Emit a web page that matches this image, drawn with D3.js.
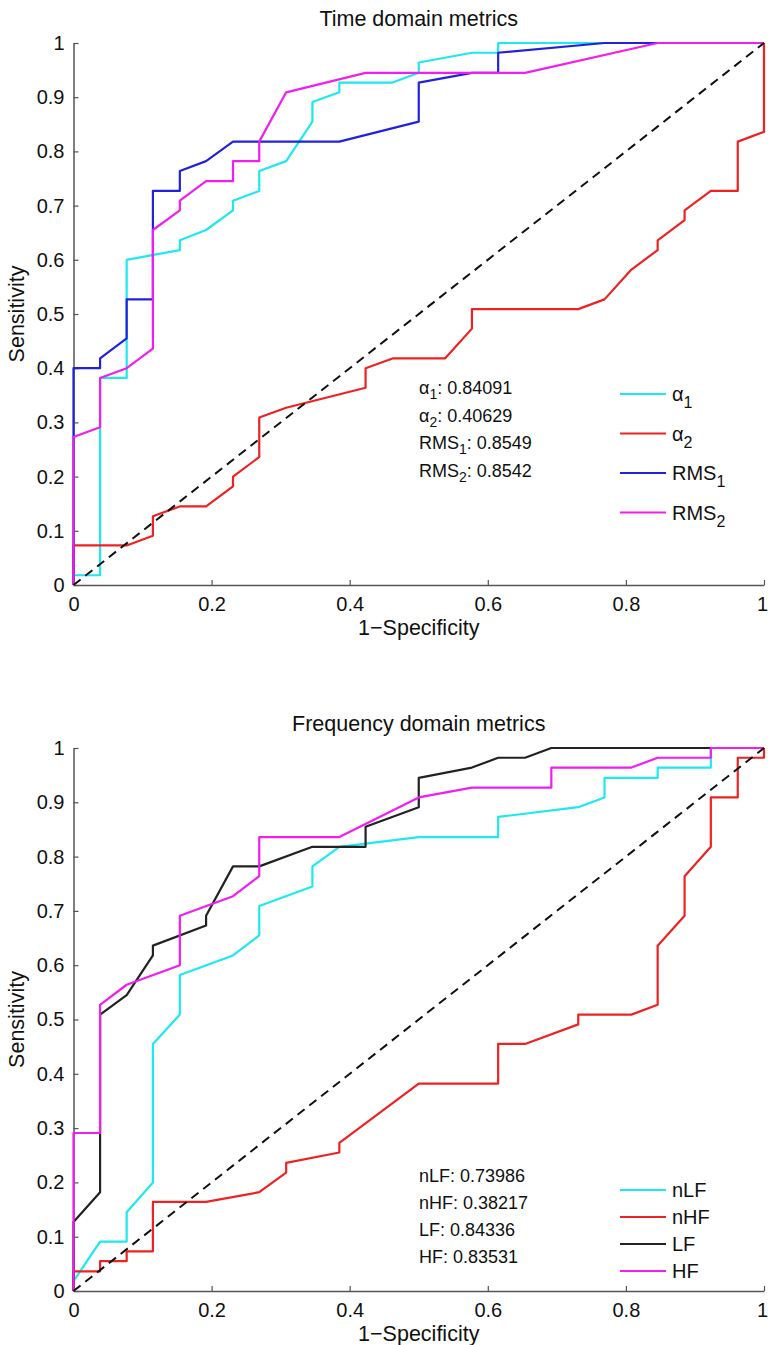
<!DOCTYPE html>
<html>
<head>
<meta charset="utf-8">
<script src="https://cdn.jsdelivr.net/npm/d3@7"></script>
<style>
  body { margin: 0; background: #fff; }
  text { font-family: "Liberation Sans", Arial, sans-serif; fill: #111; }
</style>
</head>
<body>
<div id="chart"></div>
<script>
// chart size
const width = 768, height = 1345;

// tick labels
const xTicks = [0, 0.2, 0.4, 0.6, 0.8, 1];
const yTicks = [0, 0.1, 0.2, 0.3, 0.4, 0.5, 0.6, 0.7, 0.8, 0.9, 1];

// ROC curves, time domain  [1-specificity, sensitivity]
const alpha1 = [[0,0],[0,0.018],[0.0385,0.018],[0.0385,0.382],[0.077,0.382],[0.077,0.6],[0.154,0.618],[0.154,0.636],[0.192,0.655],[0.231,0.691],[0.231,0.709],[0.269,0.727],[0.269,0.764],[0.308,0.782],[0.346,0.855],[0.346,0.891],[0.385,0.909],[0.385,0.927],[0.462,0.927],[0.5,0.945],[0.5,0.964],[0.577,0.982],[0.615,0.982],[0.615,1],[1,1]];
const alpha2 = [[0,0],[0,0.073],[0.077,0.073],[0.115,0.091],[0.115,0.127],[0.154,0.145],[0.192,0.145],[0.231,0.182],[0.231,0.2],[0.269,0.236],[0.269,0.309],[0.308,0.327],[0.423,0.364],[0.423,0.4],[0.462,0.418],[0.538,0.418],[0.577,0.473],[0.577,0.509],[0.731,0.509],[0.769,0.527],[0.808,0.582],[0.846,0.618],[0.846,0.636],[0.885,0.673],[0.885,0.691],[0.923,0.727],[0.962,0.727],[0.962,0.818],[1,0.836],[1,1]];
const rms1 = [[0,0],[0,0.4],[0.0385,0.4],[0.0385,0.418],[0.077,0.455],[0.077,0.527],[0.115,0.527],[0.115,0.727],[0.154,0.727],[0.154,0.764],[0.192,0.782],[0.231,0.818],[0.385,0.818],[0.5,0.855],[0.5,0.927],[0.577,0.945],[0.615,0.945],[0.615,0.982],[0.769,1],[1,1]];
const rms2 = [[0,0],[0,0.273],[0.0385,0.291],[0.0385,0.382],[0.077,0.4],[0.115,0.436],[0.115,0.655],[0.154,0.691],[0.154,0.709],[0.192,0.745],[0.231,0.745],[0.231,0.782],[0.269,0.782],[0.269,0.818],[0.308,0.909],[0.423,0.945],[0.654,0.945],[0.846,1],[1,1]];

// ROC curves, frequency domain
const nLF = [[0,0],[0,0.018],[0.0385,0.091],[0.077,0.091],[0.077,0.145],[0.115,0.2],[0.115,0.455],[0.154,0.509],[0.154,0.582],[0.231,0.618],[0.269,0.655],[0.269,0.709],[0.346,0.745],[0.346,0.782],[0.385,0.818],[0.5,0.836],[0.615,0.836],[0.615,0.873],[0.731,0.891],[0.769,0.909],[0.769,0.945],[0.846,0.945],[0.846,0.964],[0.923,0.964],[0.923,1],[1,1]];
const nHF = [[0,0],[0,0.036],[0.0385,0.036],[0.0385,0.055],[0.077,0.055],[0.077,0.073],[0.115,0.073],[0.115,0.164],[0.192,0.164],[0.269,0.182],[0.308,0.218],[0.308,0.236],[0.385,0.255],[0.385,0.273],[0.5,0.382],[0.615,0.382],[0.615,0.455],[0.654,0.455],[0.731,0.491],[0.731,0.509],[0.808,0.509],[0.846,0.527],[0.846,0.636],[0.885,0.691],[0.885,0.764],[0.923,0.818],[0.923,0.909],[0.962,0.909],[0.962,0.982],[1,0.982],[1,1]];
const LF = [[0,0],[0,0.127],[0.0385,0.182],[0.0385,0.509],[0.077,0.545],[0.115,0.618],[0.115,0.636],[0.192,0.673],[0.192,0.691],[0.231,0.782],[0.269,0.782],[0.346,0.818],[0.423,0.818],[0.423,0.855],[0.5,0.891],[0.5,0.945],[0.577,0.964],[0.615,0.982],[0.654,0.982],[0.692,1],[1,1]];
const HF = [[0,0],[0,0.291],[0.0385,0.291],[0.0385,0.527],[0.077,0.564],[0.154,0.6],[0.154,0.691],[0.231,0.727],[0.269,0.764],[0.269,0.836],[0.385,0.836],[0.5,0.909],[0.577,0.927],[0.692,0.927],[0.692,0.964],[0.808,0.964],[0.846,0.982],[0.923,0.982],[0.923,1],[1,1]];

// chance line
const diagonal = [[0,0],[1,1]];

// legend / AUC text
const timeNames = [["α", "1"], ["α", "2"], ["RMS", "1"], ["RMS", "2"]];
const timeAUC = ["0.84091", "0.40629", "0.8549", "0.8542"];
const freqNames = [["nLF", ""], ["nHF", ""], ["LF", ""], ["HF", ""]];
const freqAUC = ["0.73986", "0.38217", "0.84336", "0.83531"];

const svg = d3.select("#chart")
  .append("svg")
    .attr("width", width)
    .attr("height", height);

//one panel
function drawPanel(opt) {
  const x = d3.scaleLinear().domain([0, 1]).range([73.5, 764]);
  const y = d3.scaleLinear().domain([0, 1]).range([opt.bottom, opt.top]);
  const g = svg.append("g");

  const line = d3.line()
    .x(d => x(d[0]))
    .y(d => y(d[1]));

  //axes (ticks inside, like matlab)
  g.append("g")
    .attr("transform", `translate(0,${y(0)})`)
    .call(d3.axisBottom(x).tickValues(xTicks).tickSizeInner(-5).tickSizeOuter(0).tickPadding(12).tickFormat(d3.format("~g")))
    .call(a => a.selectAll("text").attr("dy", "0.71em"))
    .call(a => a.selectAll(".tick:last-of-type text").attr("dx", -2));
  g.append("g")
    .attr("transform", `translate(${x(0)},0)`)
    .call(d3.axisLeft(y).tickValues(yTicks).tickSizeInner(-5).tickSizeOuter(0).tickPadding(9).tickFormat(d3.format("~g")));

  g.selectAll(".domain").attr("stroke", "#555").attr("stroke-width", 1.5);
  g.selectAll(".tick line").attr("stroke", "#555").attr("stroke-width", 1.2);
  g.selectAll(".tick text").style("font-size", "20px").attr("fill", "#111");

  //curves
  g.selectAll("path.roc")
    .data(opt.series)
    .join("path")
      .attr("class", "roc")
      .attr("d", d => line(d))
      .attr("fill", "none")
      .attr("stroke", (d, i) => opt.colors[i])
      .attr("stroke-width", 2.2)
      .attr("stroke-linejoin", "round");

  g.append("path")
    .attr("d", line(diagonal))
    .attr("fill", "none")
    .attr("stroke", "#111")
    .attr("stroke-width", 2)
    .attr("stroke-dasharray", "9,6");

  //titles
  g.append("text")
    .attr("x", (x(0) + x(1)) / 2)
    .attr("y", opt.top - 17)
    .attr("text-anchor", "middle")
    .style("font-size", "21.5px")
    .text(opt.title);
  g.append("text")
    .attr("x", (x(0) + x(1)) / 2)
    .attr("y", y(0) + 50)
    .attr("text-anchor", "middle")
    .style("font-size", "21.5px")
    .text("1\u2212Specificity");
  g.append("text")
    .attr("transform", `translate(24,${(y(0) + y(1)) / 2}) rotate(-90)`)
    .attr("text-anchor", "middle")
    .style("font-size", "21.5px")
    .text("Sensitivity");

  //AUC annotation
  opt.names.forEach((n, i) => {
    const t = g.append("text")
      .attr("x", 419)
      .attr("y", opt.noteY + i * opt.noteStep)
      .style("font-size", "18px");
    t.append("tspan").text(n[0]);
    if (n[1]) t.append("tspan").attr("dy", 5).style("font-size", "14px").text(n[1]);
    t.append("tspan").attr("dy", n[1] ? -5 : 0).text(": " + opt.auc[i]);
  });

  //legend
  opt.names.forEach((n, i) => {
    const ly = opt.legY + i * opt.legStep;
    g.append("line")
      .attr("x1", 620).attr("x2", 666)
      .attr("y1", ly).attr("y2", ly)
      .attr("stroke", opt.colors[i])
      .attr("stroke-width", 2.2);
    const t = g.append("text")
      .attr("x", 672)
      .attr("y", ly + 7)
      .style("font-size", "20px");
    t.append("tspan").text(n[0]);
    if (n[1]) t.append("tspan").attr("dy", 7).style("font-size", "16px").text(n[1]);
  });
}

drawPanel({
  top: 43, bottom: 585,
  title: "Time domain metrics",
  series: [alpha1, alpha2, rms1, rms2],
  colors: ["#1ee8f0", "#ee2222", "#2222dd", "#f01ef0"],
  names: timeNames, auc: timeAUC,
  noteY: 394, noteStep: 27.5,
  legY: 394, legStep: 39.5
});

drawPanel({
  top: 748, bottom: 1291,
  title: "Frequency domain metrics",
  series: [nLF, nHF, LF, HF],
  colors: ["#1ee8f0", "#ee2222", "#222222", "#f01ef0"],
  names: freqNames, auc: freqAUC,
  noteY: 1182, noteStep: 27,
  legY: 1190, legStep: 27
});
</script>
</body>
</html>
